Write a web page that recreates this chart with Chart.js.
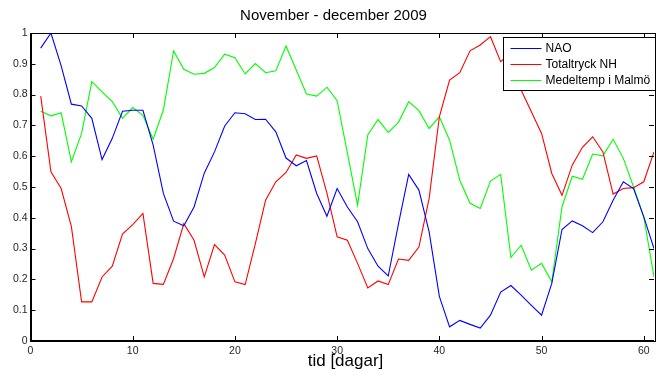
<!DOCTYPE html>
<html>
<head>
<meta charset="utf-8">
<script src="https://cdn.jsdelivr.net/npm/chart.js@4.4.1/dist/chart.umd.min.js"></script>
<style>
  html, body { margin: 0; padding: 0; background: #fff; }
  #wrap { width: 657px; height: 377px; }
</style>
</head>
<body>
<div id="wrap"><canvas id="c" width="657" height="377"></canvas></div>
<script>
const chartTitle = 'November - december 2009';
const xAxisTitle = 'tid [dagar]';
const seriesNames = ['NAO', 'Totaltryck NH', 'Medeltemp i Malmö'];
const seriesColors = ['#0000ff', '#ff0000', '#00ff00'];

const days = [1,2,3,4,5,6,7,8,9,10,11,12,13,14,15,16,17,18,19,20,21,22,23,24,25,26,27,28,29,30,
  31,32,33,34,35,36,37,38,39,40,41,42,43,44,45,46,47,48,49,50,51,52,53,54,55,56,57,58,59,60,61];

const nao = [0.951,1.0,0.893,0.769,0.763,0.723,0.589,0.658,0.746,0.749,
  0.749,0.636,0.479,0.389,0.374,0.435,0.545,0.614,0.698,0.741,
  0.738,0.719,0.72,0.679,0.594,0.569,0.586,0.479,0.405,0.495,
  0.435,0.387,0.30,0.243,0.211,0.38,0.541,0.49,0.354,0.145,
  0.046,0.067,0.054,0.042,0.084,0.159,0.18,0.149,0.116,0.084,
  0.187,0.362,0.39,0.374,0.352,0.387,0.457,0.517,0.495,0.403,0.30];

const totaltryck = [0.795,0.549,0.495,0.371,0.127,0.127,0.208,0.243,0.347,0.378,
  0.414,0.187,0.184,0.268,0.381,0.327,0.208,0.313,0.279,0.192,
  0.183,0.316,0.457,0.517,0.547,0.604,0.593,0.601,0.48,0.338,
  0.327,0.252,0.172,0.195,0.183,0.266,0.262,0.305,0.463,0.728,
  0.847,0.871,0.942,0.961,0.988,0.907,0.935,0.815,0.744,0.674,
  0.544,0.473,0.571,0.629,0.663,0.614,0.477,0.495,0.498,0.517,0.614];

const medeltemp = [0.746,0.731,0.741,0.582,0.674,0.842,0.809,0.777,0.723,0.758,
  0.733,0.655,0.75,0.942,0.882,0.866,0.869,0.888,0.931,0.92,
  0.867,0.901,0.871,0.877,0.958,0.88,0.802,0.795,0.824,0.78,
  0.611,0.441,0.669,0.719,0.677,0.71,0.777,0.748,0.69,0.728,
  0.652,0.522,0.447,0.43,0.519,0.541,0.271,0.311,0.23,0.252,
  0.192,0.436,0.535,0.525,0.607,0.601,0.655,0.593,0.50,0.403,0.208];

const xTicks = [0,10,20,30,40,50,60];
const xTickLabels = ['0','10','20','30','40','50','60'];
const yTicks = [0,0.1,0.2,0.3,0.4,0.5,0.6,0.7,0.8,0.9,1];
const yTickLabels = ['0','0.1','0.2','0.3','0.4','0.5','0.6','0.7','0.8','0.9','1'];

const allSeries = [nao, totaltryck, medeltemp];
const datasets = allSeries.map((vals, k) => ({
  label: seriesNames[k],
  data: days.map((d, i) => ({x: d, y: vals[i]})),
  borderColor: seriesColors[k],
  backgroundColor: seriesColors[k],
  borderWidth: 1.1,
  pointRadius: 0,
  tension: 0,
  fill: false
}));

const FONT = "'Liberation Sans', Arial, Helvetica, sans-serif";

const framePlugin = {
  id: 'frame',
  afterDatasetsDraw(chart) {
    const ctx = chart.ctx;
    const a = chart.chartArea;
    const xs = chart.scales.x, ys = chart.scales.y;
    ctx.save();
    ctx.strokeStyle = '#000';
    ctx.lineWidth = 1;
    ctx.beginPath();
    xTicks.forEach(v => {
      const p = Math.round(xs.getPixelForValue(v)) + 0.5;
      ctx.moveTo(p, a.bottom); ctx.lineTo(p, a.bottom - 5);
      ctx.moveTo(p, a.top); ctx.lineTo(p, a.top + 5);
    });
    yTicks.forEach(v => {
      const p = Math.round(ys.getPixelForValue(v)) + 0.5;
      ctx.moveTo(a.left, p); ctx.lineTo(a.left + 5, p);
      ctx.moveTo(a.right, p); ctx.lineTo(a.right - 5, p);
    });
    ctx.stroke();
    ctx.lineWidth = 1;
    ctx.strokeRect(Math.round(a.left) + 0.5, Math.round(a.top) + 0.5,
      Math.round(a.right - a.left), Math.round(a.bottom - a.top));
    ctx.lineWidth = 2;
    ctx.beginPath();
    ctx.moveTo(Math.round(a.left), a.top);
    ctx.lineTo(Math.round(a.left), Math.round(a.bottom));
    ctx.lineTo(a.right, Math.round(a.bottom));
    ctx.stroke();

    // legend
    const lx = Math.round(a.right) - 151 + 0.5, ly = Math.round(a.top) + 4.5;
    const lw = 152, lh = 53;
    ctx.fillStyle = '#fff';
    ctx.fillRect(lx, ly, lw, lh);
    ctx.lineWidth = 1;
    ctx.strokeStyle = '#000';
    ctx.strokeRect(lx, ly, lw, lh);
    ctx.font = '12px ' + FONT;
    ctx.textBaseline = 'middle';
    ctx.textAlign = 'left';
    chart.data.datasets.forEach((ds, k) => {
      const y = Math.round(ly + 10 + k * 16.3) + 0.5;
      ctx.strokeStyle = ds.borderColor;
      ctx.beginPath();
      ctx.moveTo(lx + 7, y); ctx.lineTo(lx + 38, y);
      ctx.stroke();
      ctx.fillStyle = '#000';
      ctx.fillText(ds.label, lx + 42, y + 0.5);
    });

    // titles
    ctx.fillStyle = '#000';
    ctx.textAlign = 'center';
    ctx.textBaseline = 'alphabetic';
    ctx.font = '15px ' + FONT;
    ctx.fillText(chartTitle, 333.5, 20);
    ctx.font = '17px ' + FONT;
    ctx.fillText(xAxisTitle, 345.5, 366);
    ctx.restore();
  }
};

new Chart(document.getElementById('c'), {
  type: 'line',
  data: { datasets },
  options: {
    responsive: false,
    devicePixelRatio: 1,
    animation: false,
    layout: { padding: { left: 0, right: 3, top: 33, bottom: 0 } },
    plugins: {
      legend: { display: false },
      title: { display: false },
      tooltip: { enabled: false }
    },
    scales: {
      x: {
        type: 'linear',
        min: 0, max: 61,
        afterFit: s => { s.height = 36; },
        afterBuildTicks: s => { s.ticks = xTicks.map(v => ({value: v})); },
        grid: { display: false, drawTicks: false },
        border: { display: false },
        ticks: { font: { family: FONT, size: 10.5 }, color: '#262626', padding: 4, maxRotation: 0,
          callback: (v, i) => xTickLabels[i] }
      },
      y: {
        type: 'linear',
        min: 0, max: 1,
        afterFit: s => { s.width = 30.5; },
        afterBuildTicks: s => { s.ticks = yTicks.map(v => ({value: v})); },
        grid: { display: false, drawTicks: false },
        border: { display: false },
        ticks: { font: { family: FONT, size: 10.5 }, color: '#262626', padding: 3,
          callback: (v, i) => yTickLabels[i] }
      }
    }
  },
  plugins: [framePlugin]
});
</script>
</body>
</html>
